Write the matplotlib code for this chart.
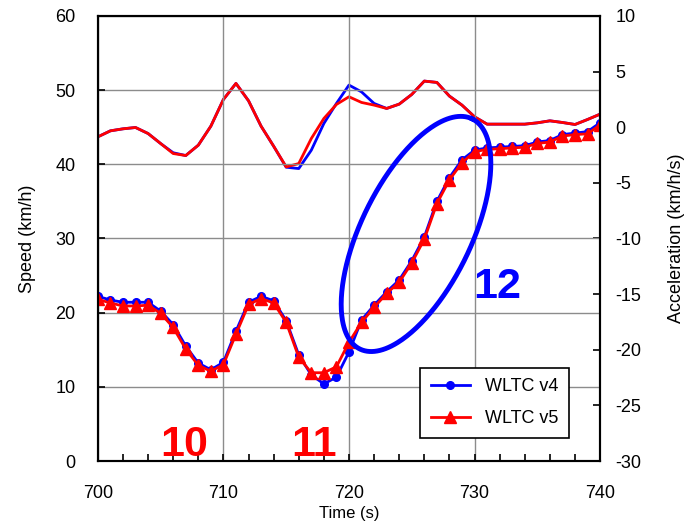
import numpy as np
import matplotlib
matplotlib.use("Agg")
import matplotlib.pyplot as plt

plt.rcParams["font.family"] = ["Liberation Sans", "DejaVu Sans"]
plt.rcParams["axes.unicode_minus"] = False

# tempo (s)
time = np.arange(700, 741)

# velocita' (km/h)
speed_v4 = [22.2, 21.7, 21.4, 21.4, 21.4, 20.2, 18.4, 15.5, 13.2, 12.3, 13.3,
            17.5, 21.4, 22.2, 21.6, 18.9, 14.3, 11.6, 10.4, 11.3, 14.7,
            19.0, 21.0, 22.8, 24.4, 27.0, 30.2, 35.0, 38.2, 40.6, 41.9,
            42.2, 42.3, 42.4, 42.5, 43.0, 43.2, 44.0, 44.2, 44.4, 45.6]
speed_v5 = [21.8, 21.3, 20.9, 20.9, 21.0, 19.9, 18.0, 15.1, 12.9, 12.1, 13.0,
            17.1, 21.1, 21.9, 21.3, 18.7, 14.0, 11.9, 11.9, 12.7, 16.0,
            18.7, 20.7, 22.6, 24.1, 26.7, 29.9, 34.7, 37.9, 40.2, 41.7,
            42.0, 42.1, 42.2, 42.3, 42.8, 43.0, 43.8, 44.0, 44.1, 45.3]

# accelerazione (km/h/s)
acc_v4 = [-0.87, -0.33, -0.15, -0.03, -0.57, -1.47, -2.3, -2.55, -1.62, 0.09, 2.49,
          3.93, 2.37, 0.09, -1.71, -3.6, -3.72, -2.07, 0.33, 2.13, 3.78,
          3.17, 2.13, 1.68, 2.07, 2.94, 4.14, 4.02, 2.79, 1.98, 0.93,
          0.27, 0.27, 0.27, 0.27, 0.39, 0.57, 0.42, 0.24, 0.69, 1.17]
acc_v5 = [-0.87, -0.33, -0.15, -0.03, -0.57, -1.47, -2.37, -2.55, -1.62, 0.09, 2.49,
          3.93, 2.37, 0.09, -1.71, -3.57, -3.27, -1.02, 0.78, 2.04, 2.73,
          2.22, 1.98, 1.68, 2.07, 2.94, 4.14, 4.02, 2.79, 1.98, 0.93,
          0.27, 0.27, 0.27, 0.27, 0.39, 0.57, 0.42, 0.24, 0.69, 1.17]

BLUE = "#0000ff"
RED = "#ff0000"

fig = plt.figure(figsize=(6.89, 5.29), dpi=100)
ax = fig.add_axes([0.142, 0.1285, 0.729, 0.8415])
ax2 = ax.twinx()

# accelerazione sull'asse destro
ax2.plot(time, acc_v4, color=BLUE, lw=2)
ax2.plot(time, acc_v5, color=RED, lw=2)
ax2.set_ylim(-30, 10)
ax2.set_yticks(np.arange(-30, 11, 5))
ax2.set_ylabel("Acceleration (km/h/s)", fontsize=13, labelpad=19)

# velocita' sull'asse sinistro, sopra
ax.set_zorder(ax2.get_zorder() + 1)
ax.patch.set_visible(False)
ax.plot(time, speed_v4, color=BLUE, lw=2, marker="o", ms=5.5, label="WLTC v4")
ax.plot(time, speed_v5, color=RED, lw=2, marker="^", ms=9, label="WLTC v5")
ax.set_xlim(700, 740)
ax.set_ylim(0, 60)
ax.set_xticks(np.arange(700, 741, 10))
ax.set_xticks(np.arange(700, 741, 2), minor=True)
ax.set_yticks(np.arange(0, 61, 10))
ax.grid(True, color="#8c8c8c", lw=1)
ax.set_xlabel("Time (s)", fontsize=12, labelpad=3)
ax.set_ylabel("Speed (km/h)", fontsize=13, labelpad=14)

for a in (ax, ax2):
    a.tick_params(direction="in", labelsize=13, width=1.2, length=5)
    a.tick_params(which="minor", direction="in", width=1.2, length=5)
    for sp in a.spines.values():
        sp.set_linewidth(1.5)
ax.tick_params(axis="y", pad=16)
ax2.tick_params(axis="y", pad=11)
ax.tick_params(axis="x", pad=17)

# ellisse di evidenziazione (in pixel dell'area assi)
W, H = 502.0, 445.0
cx, cy, a_, b_, th = 318.0, 227.0, 128.0, 55.0, np.deg2rad(64)
t = np.linspace(0, 2 * np.pi, 300)
ex = cx + a_ * np.cos(t) * np.cos(th) - b_ * np.sin(t) * np.sin(th)
ey = cy + a_ * np.cos(t) * np.sin(th) + b_ * np.sin(t) * np.cos(th)
ax.plot(ex / W, ey / H, color=BLUE, lw=3.5, transform=ax.transAxes, zorder=5)

ax.text(706.9, 2.1, "10", color=RED, fontsize=31, fontweight="bold", ha="center", va="center")
ax.text(717.2, 2.1, "11", color=RED, fontsize=31, fontweight="bold", ha="center", va="center")
ax.text(731.8, 23.4, "12", color=BLUE, fontsize=31, fontweight="bold", ha="center", va="center")

leg = ax.legend(loc="lower right", bbox_to_anchor=(0.956, 0.032), fontsize=13,
                fancybox=False, framealpha=1, edgecolor="black",
                handlelength=2.2, borderpad=0.6, labelspacing=0.8)
leg.get_frame().set_linewidth(1.2)
leg.set_zorder(10)

plt.savefig("out.png", dpi=100)
